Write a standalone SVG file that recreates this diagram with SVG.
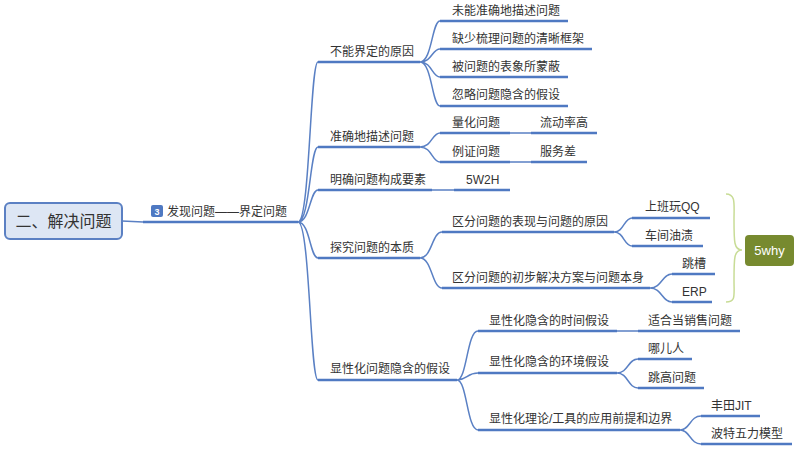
<svg xmlns="http://www.w3.org/2000/svg" width="800" height="451" viewBox="0 0 800 451">
<style>
text{font-family:"Liberation Sans","Noto Sans CJK SC",sans-serif;font-size:12px;fill:#333}
.u{stroke:#4f79c2;stroke-width:2.5;fill:none}
.c{stroke:#5a80c4;stroke-width:1.5;fill:none}
</style>
<rect width="800" height="451" fill="#fff"/>
<g id="connectors">
<path class="c" d="M122,221 L143,222"/>
<path class="u" d="M143,222 L298,222"/>
<path class="c" d="M298,222 C310,222 310,62 318,62 M298,222 C310,222 310,147 318,147 M298,222 C310,222 310,190 318,190 M298,222 C310,222 310,258 318,258 M298,222 C310,222 310,380 318,380"/>
<path class="u" d="M318,62H420 M318,147H420 M318,190H432 M318,258H420 M318,380H457"/>
<path class="c" d="M420,62 C432,62 432,21 440,21 M420,62 C432,62 432,49 440,49 M420,62 C432,62 432,77 440,77 M420,62 C432,62 432,106 440,106"/>
<path class="u" d="M440,21H568 M440,49H592 M440,77H568 M440,106H568"/>
<path class="c" d="M420,147 C432,147 432,133 440,133 M420,147 C432,147 432,162 440,162 M510,133H531 M510,162H531 M432,190H454"/>
<path class="u" d="M440,133H510 M531,133H597 M440,162H510 M531,162H587 M454,190H510"/>
<path class="c" d="M420,258 C432,258 432,232 442,232 M420,258 C432,258 432,288 442,288 M614,232 C624,232 624,218 632,218 M614,232 C624,232 624,246 632,246 M650,288 C662,288 662,274 672,274 M650,288 C662,288 662,302 672,302"/>
<path class="u" d="M442,232H614 M442,288H650 M632,218H710 M632,246H703 M672,274H715 M672,302H712"/>
<path class="c" d="M457,380 C467,380 467,331 478,331 M457,380 C467,380 467,373 478,373 M457,380 C467,380 467,430 478,430 M617,331H638 M617,373 C628,373 628,359 638,359 M617,373 C628,373 628,388 638,388 M680,430 C690,430 690,416 701,416 M680,430 C690,430 690,444 701,444"/>
<path class="u" d="M478,331H617 M638,331H740 M478,373H617 M638,359H692 M638,388H704 M478,430H680 M701,416H760 M701,444H792"/>
<path d="M726,194 C736,194 734,204 734,220 C734,242 734,250 742,250 C734,250 734,258 734,280 C734,296 736,302 726,302" stroke="#c8dc96" stroke-width="1.5" fill="none"/>
</g>
<g id="root"><rect x="5" y="203" width="117" height="36" rx="5" fill="#dde6f4" stroke="#5b80c3" stroke-width="2"/><text x="63.5" y="227" text-anchor="middle" style="font-size:16px">二、解决问题</text></g>
<g id="n-main"><rect x="151" y="205" width="12" height="12" rx="2" fill="#4f79c2"/><text x="157" y="215" text-anchor="middle" style="font-size:9px;fill:#fff;font-weight:bold">3</text><text x="167" y="216">发现问题——界定问题</text></g>
<g id="n1"><text x="330" y="56">不能界定的原因</text></g>
<g id="n1a"><text x="452" y="15">未能准确地描述问题</text></g>
<g id="n1b"><text x="452" y="43">缺少梳理问题的清晰框架</text></g>
<g id="n1c"><text x="452" y="71">被问题的表象所蒙蔽</text></g>
<g id="n1d"><text x="452" y="99">忽略问题隐含的假设</text></g>
<g id="n2"><text x="330" y="141">准确地描述问题</text></g>
<g id="n2a"><text x="452" y="127">量化问题</text></g>
<g id="n2a1"><text x="540" y="127">流动率高</text></g>
<g id="n2b"><text x="452" y="156">例证问题</text></g>
<g id="n2b1"><text x="540" y="156">服务差</text></g>
<g id="n3"><text x="330" y="184">明确问题构成要素</text></g>
<g id="n3a"><text x="466" y="184">5W2H</text></g>
<g id="n4"><text x="330" y="252">探究问题的本质</text></g>
<g id="n4a"><text x="452" y="226">区分问题的表现与问题的原因</text></g>
<g id="n4a1"><text x="645" y="211">上班玩QQ</text></g>
<g id="n4a2"><text x="645" y="240">车间油渍</text></g>
<g id="n4b"><text x="452" y="282">区分问题的初步解决方案与问题本身</text></g>
<g id="n4b1"><text x="682" y="268">跳槽</text></g>
<g id="n4b2"><text x="682" y="296">ERP</text></g>
<g id="n5why"><rect x="745" y="235" width="49" height="31" rx="4" fill="#778a2f"/><text x="769.5" y="255" text-anchor="middle" style="fill:#fff;font-size:13px">5why</text></g>
<g id="n5"><text x="330" y="373">显性化问题隐含的假设</text></g>
<g id="n5a"><text x="489" y="325">显性化隐含的时间假设</text></g>
<g id="n5a1"><text x="648" y="325">适合当销售问题</text></g>
<g id="n5b"><text x="489" y="366">显性化隐含的环境假设</text></g>
<g id="n5b1"><text x="648" y="353">哪儿人</text></g>
<g id="n5b2"><text x="648" y="382">跳高问题</text></g>
<g id="n5c"><text x="489" y="423">显性化理论/工具的应用前提和边界</text></g>
<g id="n5c1"><text x="711" y="410">丰田JIT</text></g>
<g id="n5c2"><text x="711" y="438">波特五力模型</text></g>
</svg>
